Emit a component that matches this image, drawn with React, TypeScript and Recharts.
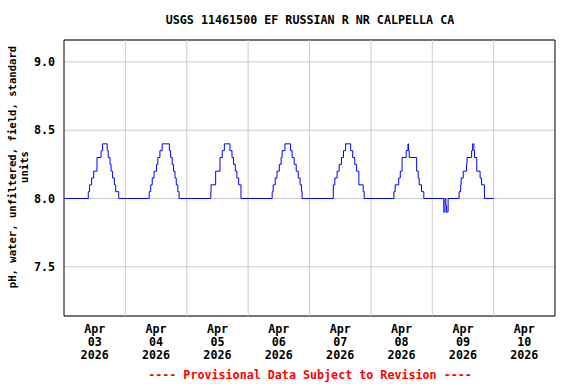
import React from "react";
import {
  LineChart,
  Line,
  XAxis,
  YAxis,
  CartesianGrid,
  ReferenceLine,
  ReferenceArea,
} from "recharts";

// Hours since Apr 03 2026 00:00 where each day's pH changes: [hour of day, pH]
const day1Steps: [number, number][] = [[9.5, 8.05], [10.0, 8.1], [10.8, 8.15], [11.6, 8.2], [12.9, 8.3], [14.5, 8.35], [15.1, 8.4], [16.9, 8.35], [17.3, 8.3], [18.0, 8.25], [18.4, 8.2], [19.0, 8.15], [19.7, 8.1], [20.2, 8.05], [21.4, 8.0]];
const day2Steps: [number, number][] = [[9.3, 8.05], [9.9, 8.1], [10.5, 8.15], [11.2, 8.2], [12.2, 8.25], [12.7, 8.3], [13.5, 8.35], [14.4, 8.4], [17.2, 8.35], [17.7, 8.3], [18.3, 8.25], [18.8, 8.2], [19.4, 8.15], [19.9, 8.1], [20.5, 8.05], [21.0, 8.0]];
const day3Steps: [number, number][] = [[9.4, 8.05], [9.5, 8.1], [11.3, 8.2], [13.0, 8.3], [13.9, 8.35], [14.7, 8.4], [16.9, 8.35], [17.7, 8.3], [18.3, 8.25], [19.0, 8.2], [19.6, 8.15], [20.3, 8.1], [21.2, 8.0]];
const day4Steps: [number, number][] = [[9.4, 8.05], [9.8, 8.1], [10.6, 8.15], [11.3, 8.2], [12.2, 8.25], [12.9, 8.3], [13.3, 8.35], [14.4, 8.4], [16.6, 8.35], [17.2, 8.3], [18.0, 8.25], [18.8, 8.2], [19.6, 8.15], [20.3, 8.1], [20.9, 8.05], [21.1, 8.0]];
const day5Steps: [number, number][] = [[9.3, 8.1], [9.9, 8.15], [10.8, 8.2], [11.6, 8.25], [12.5, 8.3], [13.3, 8.35], [14.1, 8.4], [16.1, 8.35], [16.9, 8.3], [17.7, 8.25], [18.4, 8.2], [19.3, 8.1], [21.0, 8.05], [21.4, 8.0]];
const day6Steps: [number, number][] = [[9.0, 8.05], [9.5, 8.1], [10.9, 8.15], [11.5, 8.2], [12.2, 8.3], [13.8, 8.35], [14.5, 8.4], [14.7, 8.35], [15.0, 8.3], [17.9, 8.2], [18.5, 8.15], [18.9, 8.1], [19.8, 8.05], [20.7, 8.0]];
const day7Steps: [number, number][] = [[4.5, 7.9], [5.0, 8.0], [5.3, 7.95], [5.6, 7.9], [6.2, 8.0], [10.5, 8.05], [11.1, 8.1], [11.3, 8.15], [12.1, 8.2], [13.4, 8.25], [13.6, 8.3], [15.4, 8.35], [15.8, 8.4], [16.3, 8.35], [16.5, 8.3], [17.4, 8.2], [18.7, 8.15], [19.3, 8.1], [20.4, 8.0]];

const dailySteps = [day1Steps, day2Steps, day3Steps, day4Steps, day5Steps, day6Steps, day7Steps];
const baseValue = 8.0;
const lastHour = 168;

const tickHours = [12, 36, 60, 84, 108, 132, 156, 180];
const tickMonths = ["Apr", "Apr", "Apr", "Apr", "Apr", "Apr", "Apr", "Apr"];
const tickDays = ["03", "04", "05", "06", "07", "08", "09", "10"];
const tickYears = ["2026", "2026", "2026", "2026", "2026", "2026", "2026", "2026"];
const midnightHours = [24, 48, 72, 96, 120, 144, 168];
const yTicks = [7.5, 8.0, 8.5, 9.0];
const yDomain: [number, number] = [7.14, 9.16];
const xDomain: [number, number] = [0, 192];

const titleText = "USGS 11461500 EF RUSSIAN R NR CALPELLA CA";
const yLabelLine1 = "pH, water, unfiltered, field, standard";
const yLabelLine2 = "units";
const footerText = "---- Provisional Data Subject to Revision ----";

const data: { t: number; v: number }[] = [];
dailySteps.forEach((steps, d) => {
  data.push({ t: d * 24, v: baseValue });
  steps.forEach(([h, v]) => data.push({ t: d * 24 + h, v }));
});
data.push({ t: lastHour, v: baseValue });

const FONT = "'DejaVu Sans Mono', monospace";
const FS = 11.7;

const DateTick = (props: any) => {
  const { x, y, payload } = props;
  const i = tickHours.indexOf(payload.value);
  return (
    <text
      x={x}
      y={y}
      textAnchor="middle"
      fontFamily={FONT}
      fontWeight="bold"
      fontSize={FS}
      fill="#000"
    >
      <tspan x={x} y={y + 17}>{tickMonths[i]}</tspan>
      <tspan x={x} y={y + 30}>{tickDays[i]}</tspan>
      <tspan x={x} y={y + 43}>{tickYears[i]}</tspan>
    </text>
  );
};

export default function App() {
  return (
    <div style={{ position: "absolute", left: 0, top: 0, width: 576, height: 384, background: "#fff" }}>
      <LineChart
        width={576}
        height={384}
        data={data}
        margin={{ top: 40, right: 21, bottom: 0, left: 0 }}
      >
        <CartesianGrid vertical={false} stroke="#cccccc" strokeWidth={1} />
        {midnightHours.map((h) => (
          <ReferenceLine key={h} x={h} stroke="#cccccc" strokeWidth={1} />
        ))}
        <XAxis
          type="number"
          dataKey="t"
          domain={xDomain}
          ticks={tickHours}
          tick={<DateTick />}
          tickLine={false}
          axisLine={false}
          tickSize={0}
          tickMargin={0}
          height={68}
          allowDataOverflow
          interval={0}
        />
        <YAxis
          type="number"
          domain={yDomain}
          ticks={yTicks}
          tickFormatter={(v: number) => v.toFixed(1)}
          tickLine={false}
          axisLine={false}
          tickSize={0}
          tickMargin={9}
          width={64}
          allowDataOverflow
          interval={0}
          tick={{ fontFamily: FONT, fontWeight: "bold", fontSize: FS, fill: "#000" }}
        />
        <ReferenceArea
          x1={xDomain[0]}
          x2={xDomain[1]}
          y1={yDomain[0]}
          y2={yDomain[1]}
          fill="#fff"
          fillOpacity={0}
          stroke="#000"
          strokeWidth={1}
        />
        <Line
          type="stepAfter"
          dataKey="v"
          stroke="#0000ff"
          strokeWidth={1}
          dot={false}
          isAnimationActive={false}
        />
      </LineChart>
      <svg
        width={576}
        height={384}
        style={{ position: "absolute", left: 0, top: 0, pointerEvents: "none" }}
      >
        <text x={310} y={24} textAnchor="middle" fontFamily={FONT} fontWeight="bold" fontSize={FS} fill="#000">
          {titleText}
        </text>
        <text x={310} y={379} textAnchor="middle" fontFamily={FONT} fontWeight="bold" fontSize={FS} fill="#ff0000">
          {footerText}
        </text>
        <text transform="translate(16,167) rotate(-90)" textAnchor="middle" fontFamily={FONT} fontWeight="bold" fontSize={10.6} fill="#000">
          {yLabelLine1}
        </text>
        <text transform="translate(28,167) rotate(-90)" textAnchor="middle" fontFamily={FONT} fontWeight="bold" fontSize={10.6} fill="#000">
          {yLabelLine2}
        </text>
      </svg>
    </div>
  );
}
